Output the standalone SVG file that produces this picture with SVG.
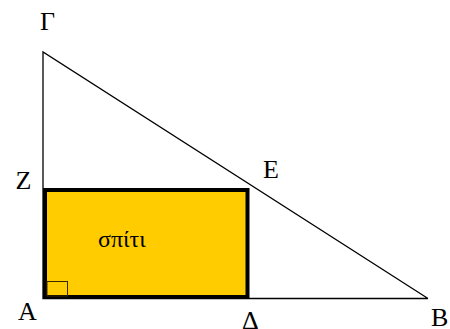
<svg xmlns="http://www.w3.org/2000/svg" width="450" height="329" viewBox="0 0 450 329">
<style>
.lbl{font-family:"Liberation Serif","DejaVu Serif",serif;font-size:26px;fill:#000}
.edge{fill:none;stroke:#000;stroke-width:1.3}
</style>
<rect width="450" height="329" fill="#fff"/>
<g id="connectors">
<polyline class="edge" points="428,298.5 43,298.5 43,52 428,298.5"/>
</g>
<g id="house">
<rect x="45" y="190" width="202.5" height="107" fill="#ffcc00" stroke="#000" stroke-width="4"/>
<rect x="47" y="281.5" width="20.5" height="14.5" fill="none" stroke="#3a2a00" stroke-width="1"/>
<text class="lbl" x="98" y="247" style="font-size:24px">σπίτι</text>
</g>
<g id="Gamma"><text class="lbl" x="40" y="30">Γ</text></g>
<g id="Z"><text class="lbl" x="15.5" y="189">Z</text></g>
<g id="E"><text class="lbl" x="263" y="178">E</text></g>
<g id="A"><text class="lbl" x="18" y="320">A</text></g>
<g id="Delta"><text class="lbl" x="242" y="328.5">Δ</text></g>
<g id="B"><text class="lbl" x="431" y="326">B</text></g>
</svg>
